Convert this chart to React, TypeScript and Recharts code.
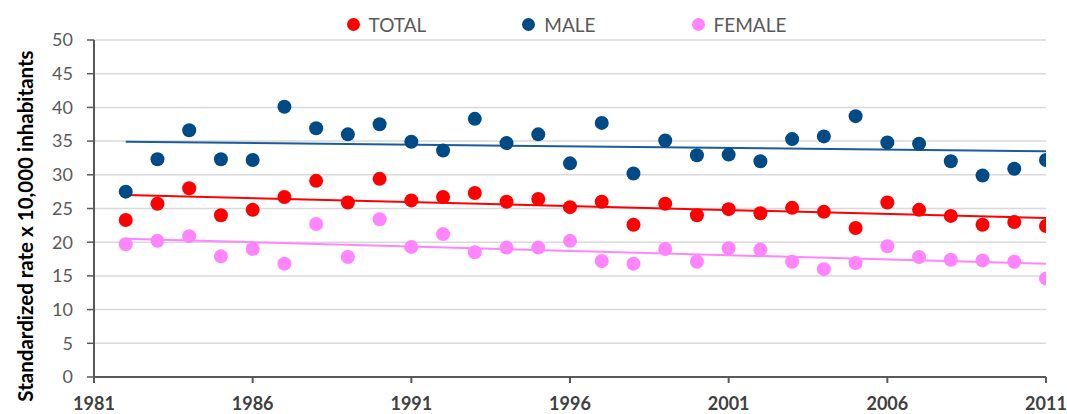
import React from "react";
import {
  ComposedChart,
  Scatter,
  Line,
  XAxis,
  YAxis,
  CartesianGrid,
  Legend,
} from "recharts";

const years = [
  1982, 1983, 1984, 1985, 1986, 1987, 1988, 1989, 1990, 1991, 1992, 1993, 1994, 1995, 1996,
  1997, 1998, 1999, 2000, 2001, 2002, 2003, 2004, 2005, 2006, 2007, 2008, 2009, 2010, 2011,
];
const totalValues = [
  23.3, 25.7, 28.0, 24.0, 24.8, 26.7, 29.1, 25.9, 29.4, 26.2, 26.7, 27.3, 26.0, 26.4, 25.2,
  26.0, 22.6, 25.7, 24.0, 24.9, 24.3, 25.1, 24.5, 22.1, 25.9, 24.8, 23.9, 22.6, 23.0, 22.4,
];
const maleValues = [
  27.5, 32.3, 36.6, 32.3, 32.2, 40.1, 36.9, 36.0, 37.5, 34.9, 33.6, 38.3, 34.7, 36.0, 31.7,
  37.7, 30.2, 35.1, 32.9, 33.0, 32.0, 35.3, 35.7, 38.7, 34.8, 34.6, 32.0, 29.9, 30.9, 32.2,
];
const femaleValues = [
  19.7, 20.2, 20.9, 17.9, 19.0, 16.8, 22.7, 17.8, 23.4, 19.3, 21.2, 18.5, 19.2, 19.2, 20.2,
  17.2, 16.8, 19.0, 17.1, 19.1, 18.9, 17.1, 16.0, 16.9, 19.4, 17.8, 17.4, 17.3, 17.1, 14.6,
];
// Trend line end points
const trendYears = [1982, 2011];
const totalTrend = [27.0, 23.6];
const maleTrend = [34.9, 33.5];
const femaleTrend = [20.5, 16.8];

const xTicks = [1981, 1986, 1991, 1996, 2001, 2006, 2011];
const yTicks = [0, 5, 10, 15, 20, 25, 30, 35, 40, 45, 50];

const seriesNames = ["TOTAL", "MALE", "FEMALE"];
const colors = { total: "#FF0000", male: "#004A85", female: "#FF85FF" };
const trendColors = { total: "#FF0000", male: "#1B5C9B", female: "#FF85FF" };

const toPts = (vals: number[]) => years.map((y, i) => ({ year: y, v: vals[i] }));
const toTrend = (vals: number[]) => trendYears.map((y, i) => ({ year: y, v: vals[i] }));

const totalData = toPts(totalValues);
const maleData = toPts(maleValues);
const femaleData = toPts(femaleValues);

const FONT = "Lato, 'Liberation Sans', sans-serif";

const LegendContent = () => {
  const items = [
    { name: seriesNames[0], color: colors.total },
    { name: seriesNames[1], color: colors.male },
    { name: seriesNames[2], color: colors.female },
  ];
  return (
    <div
      style={{
        display: "flex",
        justifyContent: "center",
        alignItems: "center",
        height: 20,
        fontFamily: FONT,
        fontSize: 19,
        color: "#595959",
        paddingLeft: 66,
      }}
    >
      {items.map((it, i) => (
        <div
          key={it.name}
          style={{
            display: "flex",
            alignItems: "center",
            marginRight: i < items.length - 1 ? 96 : 0,
          }}
        >
          <svg width={13} height={13} style={{ marginRight: 9 }}>
            <circle cx={6.5} cy={6.5} r={6.5} fill={it.color} />
          </svg>
          <span>{it.name}</span>
        </div>
      ))}
    </div>
  );
};

const YLabel = () => (
  <text
    x={25}
    y={226}
    transform="rotate(-90, 25, 226)"
    textAnchor="middle"
    dominantBaseline="central"
    fontFamily={FONT}
    fontWeight="bold"
    fontSize={20.5}
    fill="#000000"
  >
    Standardized rate x 10,000 inhabitants
  </text>
);

export default function App() {
  return (
    <div style={{ position: "absolute", left: 0, top: 0, width: 1067, height: 414, background: "#fff" }}>
      <ComposedChart
        width={1067}
        height={414}
        margin={{ top: 20, right: 21, bottom: 0, left: 34 }}
      >
        <CartesianGrid horizontal vertical={false} stroke="#D9D9D9" strokeWidth={1.5} />
        <XAxis
          type="number"
          dataKey="year"
          domain={[1981, 2011]}
          ticks={xTicks}
          allowDataOverflow
          height={37}
          axisLine={{ stroke: "#595959", strokeWidth: 2 }}
          tickLine={{ stroke: "#595959", strokeWidth: 2 }}
          tickSize={6}
          tickMargin={14}
          tick={{ fill: "#404040", fontSize: 18, fontWeight: "bold", fontFamily: FONT }}
        />
        <YAxis
          type="number"
          domain={[0, 50]}
          ticks={yTicks}
          width={60}
          axisLine={{ stroke: "#595959", strokeWidth: 2 }}
          tickLine={{ stroke: "#595959", strokeWidth: 1.5 }}
          tickSize={7}
          tickMargin={14}
          tick={{ fill: "#595959", fontSize: 18, fontFamily: FONT }}
          label={<YLabel />}
        />
        <Legend
          verticalAlign="top"
          content={<LegendContent />}
          wrapperStyle={{ top: 14, left: 0, width: 1067 }}
        />
        <Line
          data={toTrend(totalTrend)}
          dataKey="v"
          stroke={trendColors.total}
          strokeWidth={2}
          dot={false}
          activeDot={false}
          legendType="none"
          isAnimationActive={false}
        />
        <Line
          data={toTrend(maleTrend)}
          dataKey="v"
          stroke={trendColors.male}
          strokeWidth={2}
          dot={false}
          activeDot={false}
          legendType="none"
          isAnimationActive={false}
        />
        <Line
          data={toTrend(femaleTrend)}
          dataKey="v"
          stroke={trendColors.female}
          strokeWidth={2}
          dot={false}
          activeDot={false}
          legendType="none"
          isAnimationActive={false}
        />
        <Scatter
          name={seriesNames[0]}
          data={totalData}
          dataKey="v"
          fill={colors.total}
          shape={(p: any) => <circle cx={p.cx} cy={p.cy} r={7} fill={colors.total} />}
          isAnimationActive={false}
        />
        <Scatter
          name={seriesNames[1]}
          data={maleData}
          dataKey="v"
          fill={colors.male}
          shape={(p: any) => <circle cx={p.cx} cy={p.cy} r={7} fill={colors.male} />}
          isAnimationActive={false}
        />
        <Scatter
          name={seriesNames[2]}
          data={femaleData}
          dataKey="v"
          fill={colors.female}
          shape={(p: any) => <circle cx={p.cx} cy={p.cy} r={7} fill={colors.female} />}
          isAnimationActive={false}
        />
      </ComposedChart>
    </div>
  );
}
